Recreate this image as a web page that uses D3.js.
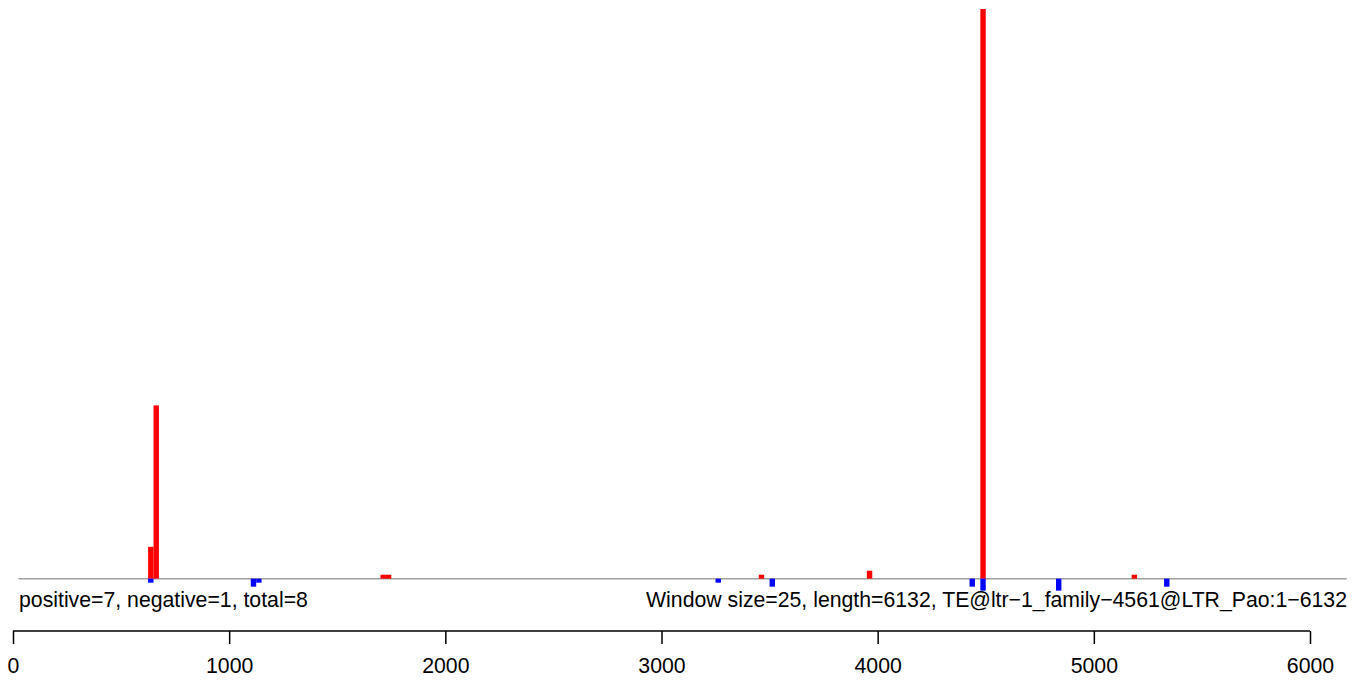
<!DOCTYPE html>
<html><head><meta charset="utf-8">
<script src="https://cdn.jsdelivr.net/npm/d3@7"></script>
<style>body{margin:0;background:#fff}svg{display:block;font-family:"Liberation Sans",Arial,sans-serif}</style>
</head><body>
<svg id="c" width="1365" height="681"></svg>
<script>
const windowSize = 25;
const seqLength = 6132;
const posStarts = [625, 650, 1700, 1725, 3450, 3950, 4475, 5175];
const posValues = [8, 43.5, 1, 1, 1, 2, 143, 1];
const negStarts = [625, 1100, 1125, 3250, 3500, 4425, 4475, 4825, 5325];
const negValues = [1, 2, 1, 1, 2, 2, 3, 3, 2];
const axisTicks = [0, 1000, 2000, 3000, 4000, 5000, 6000];
const leftLabel = "positive=7, negative=1, total=8";
const rightLabel = "Window size=25, length=6132, TE@ltr\u22121_family\u22124561@LTR_Pao:1\u22126132";

const svg = d3.select("#c");
const x = d3.scaleLinear().domain([0, 6000]).range([13, 1310]);
const y = d3.scaleLinear().domain([0, 143]).range([578.7, 9]);
const bw = x(windowSize) - x(0);
const fs = 21.25;

svg.append("text").attr("x", 19).attr("y", 607).style("font-size", fs + "px").text(leftLabel);
svg.append("text").attr("x", 1347).attr("y", 607).style("font-size", fs + "px")
  .attr("text-anchor", "end").text(rightLabel);

svg.append("line").attr("x1", x(25)).attr("x2", x(6170))
  .attr("y1", y(0)).attr("y2", y(0)).attr("stroke", "#a0a0a0").attr("stroke-width", 1.5);

svg.selectAll("rect.pos").data(posStarts.map((s, i) => ({s, v: posValues[i]}))).enter()
  .append("rect").attr("class", "pos")
  .attr("x", d => x(d.s)).attr("width", bw)
  .attr("y", d => y(d.v)).attr("height", d => y(0) - y(d.v))
  .attr("fill", "#ff0000");

svg.selectAll("rect.neg").data(negStarts.map((s, i) => ({s, v: negValues[i]}))).enter()
  .append("rect").attr("class", "neg")
  .attr("x", d => x(d.s)).attr("width", bw)
  .attr("y", y(0)).attr("height", d => y(0) - y(d.v))
  .attr("fill", "#0000ff");

const ax = svg.append("g").attr("transform", "translate(0,631)")
  .call(d3.axisBottom(x).tickValues(axisTicks).tickSize(13).tickPadding(14).tickFormat(d3.format("d")));
ax.select(".domain").attr("stroke", "#000").attr("stroke-width", 1.5).attr("d", `M${x(0)},0H${x(6000)}`);
ax.selectAll(".tick line").attr("stroke", "#000").attr("stroke-width", 1.5);
ax.selectAll(".tick text").style("font-size", fs + "px").attr("font-family", "Liberation Sans, Arial, sans-serif").attr("fill", "#000");
</script>
</body></html>
